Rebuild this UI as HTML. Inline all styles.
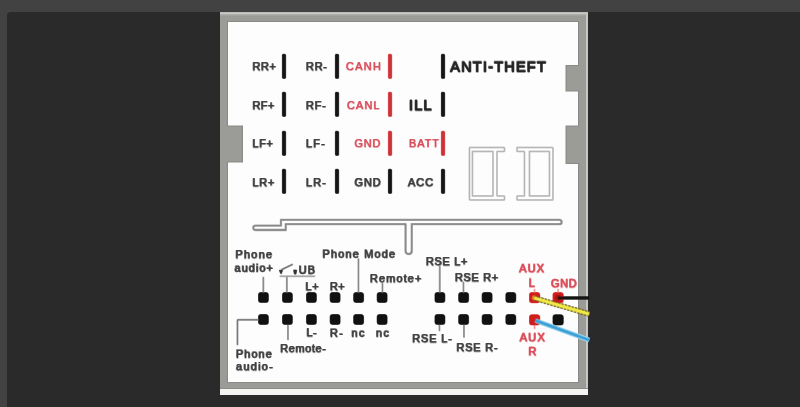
<!DOCTYPE html>
<html><head><meta charset="utf-8"><style>
html,body{margin:0;padding:0;width:800px;height:407px;overflow:hidden;background:#424242}
svg{display:block;font-family:"Liberation Sans", sans-serif;will-change:transform}
</style></head><body>
<svg width="800" height="407" viewBox="0 0 800 407">
<rect x="0" y="0" width="800" height="407" fill="#424242" rx="0"/>
<path d="M7,16 Q7,12 11,12 L800,12 L800,407 L7,407 Z" fill="#2a2a2a"/>
<rect x="220" y="12" width="368" height="377" fill="#9b9b97" rx="0"/>
<rect x="220" y="12.3" width="368" height="1.7" fill="#cacac6" rx="0"/>
<rect x="220" y="14" width="368" height="1.5" fill="#acaca8" rx="0"/>
<rect x="586" y="12.3" width="2" height="377" fill="#c6c6c2" rx="0"/>
<rect x="220" y="389" width="368" height="6" fill="#f4f4f2" rx="0"/>
<path d="M228,22 H578 V65 H565.5 V91.5 H578 V125.5 H565.5 V164 H578 V382 H228 V162.5 H243 V125.5 H228 Z" fill="#8a8a86" stroke="#8a8a86" stroke-width="2.2" stroke-linejoin="miter"/>
<path d="M228,22 H578 V65 H565.5 V91.5 H578 V125.5 H565.5 V164 H578 V382 H228 V162.5 H243 V125.5 H228 Z" fill="#fdfdfd"/>
<rect x="220" y="388" width="368" height="1" fill="#8c8c88" rx="0"/>
<defs><g id="c">
<rect x="282.4" y="54.2" width="3.3" height="24.3" fill="#151515" rx="1"/>
<rect x="335.4" y="54.2" width="3.3" height="24.3" fill="#151515" rx="1"/>
<rect x="388.4" y="54.2" width="3.3" height="24.3" fill="#cf3236" rx="1"/>
<rect x="441.4" y="54.2" width="3.3" height="24.3" fill="#151515" rx="1"/>
<rect x="282.4" y="92.2" width="3.3" height="24.3" fill="#151515" rx="1"/>
<rect x="335.4" y="92.2" width="3.3" height="24.3" fill="#151515" rx="1"/>
<rect x="388.4" y="92.2" width="3.3" height="24.3" fill="#cf3236" rx="1"/>
<rect x="441.4" y="92.2" width="3.3" height="24.3" fill="#151515" rx="1"/>
<rect x="282.4" y="131.2" width="3.3" height="24.3" fill="#151515" rx="1"/>
<rect x="335.4" y="131.2" width="3.3" height="24.3" fill="#151515" rx="1"/>
<rect x="388.4" y="131.2" width="3.3" height="24.3" fill="#cf3236" rx="1"/>
<rect x="441.4" y="131.2" width="3.3" height="24.3" fill="#cf3236" rx="1"/>
<rect x="282.4" y="169.2" width="3.3" height="24.3" fill="#151515" rx="1"/>
<rect x="335.4" y="169.2" width="3.3" height="24.3" fill="#151515" rx="1"/>
<rect x="388.4" y="169.2" width="3.3" height="24.3" fill="#151515" rx="1"/>
<rect x="441.4" y="169.2" width="3.3" height="24.3" fill="#151515" rx="1"/>
<text x="252.5" y="70.4" font-size="11" fill="#404040" stroke="#404040" stroke-width="0.25" font-weight="normal" textLength="23.5" lengthAdjust="spacing">RR+</text>
<text x="306" y="70.4" font-size="11" fill="#404040" stroke="#404040" stroke-width="0.25" font-weight="normal" textLength="21.0" lengthAdjust="spacing">RR-</text>
<text x="346" y="70.4" font-size="11" fill="#da4e5a" stroke="#da4e5a" stroke-width="0" font-weight="normal" textLength="35.0" lengthAdjust="spacing">CANH</text>
<text x="450.3" y="71.5" font-size="14.6" fill="#262626" stroke="#262626" stroke-width="0.55" font-weight="normal" textLength="95.5" lengthAdjust="spacing">ANTI-THEFT</text>
<text x="252.5" y="109" font-size="11" fill="#404040" stroke="#404040" stroke-width="0.25" font-weight="normal" textLength="21.9" lengthAdjust="spacing">RF+</text>
<text x="306" y="109" font-size="11" fill="#404040" stroke="#404040" stroke-width="0.25" font-weight="normal" textLength="20.0" lengthAdjust="spacing">RF-</text>
<text x="347" y="109" font-size="11" fill="#da4e5a" stroke="#da4e5a" stroke-width="0" font-weight="normal" textLength="32.6" lengthAdjust="spacing">CANL</text>
<text x="409" y="110.4" font-size="14.6" fill="#262626" stroke="#262626" stroke-width="0.55" font-weight="normal" textLength="22.6" lengthAdjust="spacing">ILL</text>
<text x="252.5" y="147.2" font-size="11" fill="#404040" stroke="#404040" stroke-width="0.25" font-weight="normal" textLength="20.5" lengthAdjust="spacing">LF+</text>
<text x="306" y="147.2" font-size="11" fill="#404040" stroke="#404040" stroke-width="0.25" font-weight="normal" textLength="19.0" lengthAdjust="spacing">LF-</text>
<text x="354.4" y="147.2" font-size="11" fill="#da4e5a" stroke="#da4e5a" stroke-width="0" font-weight="normal" textLength="26.0" lengthAdjust="spacing">GND</text>
<text x="409" y="147.2" font-size="11" fill="#da4e5a" stroke="#da4e5a" stroke-width="0" font-weight="normal" textLength="30.0" lengthAdjust="spacing">BATT</text>
<text x="252.5" y="186.1" font-size="11" fill="#404040" stroke="#404040" stroke-width="0.25" font-weight="normal" textLength="21.9" lengthAdjust="spacing">LR+</text>
<text x="306" y="186.1" font-size="11" fill="#404040" stroke="#404040" stroke-width="0.25" font-weight="normal" textLength="20.0" lengthAdjust="spacing">LR-</text>
<text x="354.4" y="186.1" font-size="11" fill="#404040" stroke="#404040" stroke-width="0.25" font-weight="normal" textLength="26.3" lengthAdjust="spacing">GND</text>
<text x="408" y="186.1" font-size="11" fill="#404040" stroke="#404040" stroke-width="0.25" font-weight="normal" textLength="25.3" lengthAdjust="spacing">ACC</text>
<path d="M469.5,147.5 H504.5 V151.5 H497 V196 H504.5 V200 H469.5 Z" fill="none" stroke="#b4b4b4" stroke-width="0.9"/>
<rect x="472.5" y="151.5" width="20.5" height="44.5" fill="none" stroke="#b4b4b4" stroke-width="0.9"/>
<path d="M553,147.5 H517 V151.5 H524.5 V196 H517 V200 H553 Z" fill="none" stroke="#b4b4b4" stroke-width="0.9"/>
<rect x="529.5" y="151.5" width="20" height="44.5" fill="none" stroke="#b4b4b4" stroke-width="0.9"/>
<path d="M281,219.8 H559.5 A2.2,2.2 0 0 1 559.5,224.2 H411.8 V251 A3.1,3.1 0 0 1 405.6,251 V224.2 H285.8 V230 H255.5 A2.2,2.2 0 0 1 255.5,225.6 H281 Z" fill="none" stroke="#8a8a8a" stroke-width="1.3"/>
<rect x="258.5" y="292.6" width="9.9" height="10" fill="#111" rx="2.5"/>
<rect x="282.5" y="292.6" width="9.9" height="10" fill="#111" rx="2.5"/>
<rect x="306.5" y="292.6" width="9.9" height="10" fill="#111" rx="2.5"/>
<rect x="330.2" y="292.6" width="9.9" height="10" fill="#111" rx="2.5"/>
<rect x="353.7" y="292.6" width="9.9" height="10" fill="#111" rx="2.5"/>
<rect x="377.2" y="292.6" width="9.9" height="10" fill="#111" rx="2.5"/>
<rect x="435.0" y="292.6" width="9.9" height="10" fill="#111" rx="2.5"/>
<rect x="458.7" y="292.6" width="9.9" height="10" fill="#111" rx="2.5"/>
<rect x="482.2" y="292.6" width="9.9" height="10" fill="#111" rx="2.5"/>
<rect x="505.9" y="292.6" width="9.9" height="10" fill="#111" rx="2.5"/>
<rect x="258.5" y="314.5" width="9.9" height="10" fill="#111" rx="2.5"/>
<rect x="282.5" y="314.5" width="9.9" height="10" fill="#111" rx="2.5"/>
<rect x="306.5" y="314.5" width="9.9" height="10" fill="#111" rx="2.5"/>
<rect x="330.2" y="314.5" width="9.9" height="10" fill="#111" rx="2.5"/>
<rect x="353.7" y="314.5" width="9.9" height="10" fill="#111" rx="2.5"/>
<rect x="377.2" y="314.5" width="9.9" height="10" fill="#111" rx="2.5"/>
<rect x="435.0" y="314.5" width="9.9" height="10" fill="#111" rx="2.5"/>
<rect x="458.7" y="314.5" width="9.9" height="10" fill="#111" rx="2.5"/>
<rect x="482.2" y="314.5" width="9.9" height="10" fill="#111" rx="2.5"/>
<rect x="505.9" y="314.5" width="9.9" height="10" fill="#111" rx="2.5"/>
<rect x="529.5" y="292.5" width="10.3" height="10.3" fill="#d21c1c" rx="2.5"/>
<rect x="553" y="292.5" width="10.3" height="10.3" fill="#d21c1c" rx="2.5"/>
<rect x="529.5" y="314.8" width="10.3" height="10.3" fill="#d21c1c" rx="2.5"/>
<rect x="553" y="314.8" width="10.3" height="10.3" fill="#111" rx="2.5"/>
<line x1="263.4" y1="277" x2="263.4" y2="293" stroke="#888" stroke-width="1"/>
<line x1="286.9" y1="276.5" x2="286.9" y2="293" stroke="#888" stroke-width="1"/>
<line x1="358.5" y1="258.5" x2="358.5" y2="293" stroke="#888" stroke-width="1"/>
<line x1="382.5" y1="283" x2="382.5" y2="293" stroke="#888" stroke-width="1"/>
<line x1="439.8" y1="266" x2="439.8" y2="293" stroke="#888" stroke-width="1"/>
<line x1="463.5" y1="282" x2="463.5" y2="293" stroke="#888" stroke-width="1"/>
<polyline points="259,319.8 237.5,319.8 237.5,345" fill="none" stroke="#777" stroke-width="1"/>
<line x1="288" y1="325" x2="288" y2="340" stroke="#888" stroke-width="1"/>
<line x1="439.5" y1="325" x2="439.5" y2="331" stroke="#888" stroke-width="1"/>
<line x1="464" y1="325" x2="464" y2="337.5" stroke="#888" stroke-width="1"/>
<line x1="281.4" y1="269.8" x2="292.7" y2="264.4" stroke="#666" stroke-width="0.9"/>
<path d="M279.2,270.3 L282.8,270.3 L281,274.2 Z" fill="#333"/>
<path d="M293.6,270 L296.8,270 L296.2,273.5 Q295.2,275.2 294.2,273.5 Z" fill="#333"/>
<line x1="279.9" y1="276.3" x2="315" y2="276.3" stroke="#a0a0a0" stroke-width="0.9"/>
<text x="235.4" y="258" font-size="11" fill="#404040" stroke="#404040" stroke-width="0.25" font-weight="normal" textLength="36.8" lengthAdjust="spacing">Phone</text>
<text x="234.6" y="271.7" font-size="11" fill="#404040" stroke="#404040" stroke-width="0.25" font-weight="normal" textLength="38.4" lengthAdjust="spacing">audio+</text>
<text x="298.8" y="273.6" font-size="11" fill="#404040" stroke="#404040" stroke-width="0.25" font-weight="normal" textLength="16.2" lengthAdjust="spacing">UB</text>
<text x="322.6" y="257.6" font-size="11" fill="#404040" stroke="#404040" stroke-width="0.25" font-weight="normal" textLength="72.4" lengthAdjust="spacing">Phone Mode</text>
<text x="370" y="282.3" font-size="11" fill="#404040" stroke="#404040" stroke-width="0.25" font-weight="normal" textLength="51.5" lengthAdjust="spacing">Remote+</text>
<text x="305.6" y="290.4" font-size="11" fill="#404040" stroke="#404040" stroke-width="0.25" font-weight="normal" textLength="13.0" lengthAdjust="spacing">L+</text>
<text x="330" y="290.4" font-size="11" fill="#404040" stroke="#404040" stroke-width="0.25" font-weight="normal" textLength="14.6" lengthAdjust="spacing">R+</text>
<text x="426" y="265" font-size="11" fill="#404040" stroke="#404040" stroke-width="0.25" font-weight="normal" textLength="41.4" lengthAdjust="spacing">RSE L+</text>
<text x="455" y="281.1" font-size="11" fill="#404040" stroke="#404040" stroke-width="0.25" font-weight="normal" textLength="43.3" lengthAdjust="spacing">RSE R+</text>
<text x="519.2" y="272" font-size="11" fill="#da4e5a" stroke="#da4e5a" stroke-width="0.3" font-weight="normal" textLength="25.0" lengthAdjust="spacing">AUX</text>
<text x="528.8" y="286.7" font-size="11" fill="#da4e5a" stroke="#da4e5a" stroke-width="0.3" font-weight="normal" textLength="6.6" lengthAdjust="spacing">L</text>
<text x="551" y="287.4" font-size="11" fill="#da4e5a" stroke="#da4e5a" stroke-width="0.3" font-weight="normal" textLength="25.7" lengthAdjust="spacing">GND</text>
<text x="306.4" y="336.2" font-size="11" fill="#404040" stroke="#404040" stroke-width="0.25" font-weight="normal" textLength="10.3" lengthAdjust="spacing">L-</text>
<text x="330" y="336.5" font-size="11" fill="#404040" stroke="#404040" stroke-width="0.25" font-weight="normal" textLength="13.0" lengthAdjust="spacing">R-</text>
<text x="351.6" y="336.5" font-size="11" fill="#404040" stroke="#404040" stroke-width="0.25" font-weight="normal" textLength="13.0" lengthAdjust="spacing">nc</text>
<text x="376" y="336.5" font-size="11" fill="#404040" stroke="#404040" stroke-width="0.25" font-weight="normal" textLength="13.0" lengthAdjust="spacing">nc</text>
<text x="280.2" y="352.4" font-size="11" fill="#404040" stroke="#404040" stroke-width="0.25" font-weight="normal" textLength="45.8" lengthAdjust="spacing">Remote-</text>
<text x="236" y="357.6" font-size="11" fill="#404040" stroke="#404040" stroke-width="0.25" font-weight="normal" textLength="35.8" lengthAdjust="spacing">Phone</text>
<text x="236" y="370.2" font-size="11" fill="#404040" stroke="#404040" stroke-width="0.25" font-weight="normal" textLength="36.9" lengthAdjust="spacing">audio-</text>
<text x="412.2" y="342.3" font-size="11" fill="#404040" stroke="#404040" stroke-width="0.25" font-weight="normal" textLength="39.8" lengthAdjust="spacing">RSE L-</text>
<text x="456.4" y="351.1" font-size="11" fill="#404040" stroke="#404040" stroke-width="0.25" font-weight="normal" textLength="41.2" lengthAdjust="spacing">RSE R-</text>
<text x="519.8" y="341.3" font-size="11" fill="#da4e5a" stroke="#da4e5a" stroke-width="0.3" font-weight="normal" textLength="25.0" lengthAdjust="spacing">AUX</text>
<text x="528.4" y="355.4" font-size="11" fill="#da4e5a" stroke="#da4e5a" stroke-width="0.3" font-weight="normal" textLength="8.1" lengthAdjust="spacing">R</text>
<circle cx="534.6" cy="297.8" r="2.6" fill="#f08a28"/>
<circle cx="558.2" cy="297.8" r="3" fill="#a81414"/>
<line x1="558" y1="298" x2="589" y2="298" stroke="#151515" stroke-width="2.6"/>
<line x1="534.2" y1="298" x2="589" y2="314" stroke="#6a6020" stroke-width="5" stroke-dasharray="2.2,1.3"/>
<line x1="534.2" y1="298" x2="589" y2="314" stroke="#f2ea48" stroke-width="3.2"/>
<line x1="535.3" y1="320.5" x2="589" y2="340" stroke="#a8dcf2" stroke-width="4.2"/>
<line x1="535.3" y1="320.5" x2="589" y2="340" stroke="#3a9ed6" stroke-width="2.8"/>
<line x1="534.6" y1="289" x2="534.6" y2="293" stroke="#e89090" stroke-width="0.8"/>
<line x1="558.2" y1="289" x2="558.2" y2="293" stroke="#e89090" stroke-width="0.8"/>
<line x1="534.6" y1="325" x2="534.6" y2="329" stroke="#e89090" stroke-width="0.8"/>
</g></defs>
<use href="#c" transform="translate(0,0)" opacity="0.9990"/>
<use href="#c" transform="translate(-0.5,-0.5)" opacity="0.5000"/>
<use href="#c" transform="translate(0.5,0.5)" opacity="0.3333"/>
<use href="#c" transform="translate(-0.5,0.5)" opacity="0.2500"/>
<use href="#c" transform="translate(0.5,-0.5)" opacity="0.2000"/>
<use href="#c" transform="translate(0,-0.5)" opacity="0.1667"/>
<use href="#c" transform="translate(0,0.5)" opacity="0.1429"/>
<use href="#c" transform="translate(-0.5,0)" opacity="0.1250"/>
<use href="#c" transform="translate(0.5,0)" opacity="0.1111"/>
</svg>
</body></html>
